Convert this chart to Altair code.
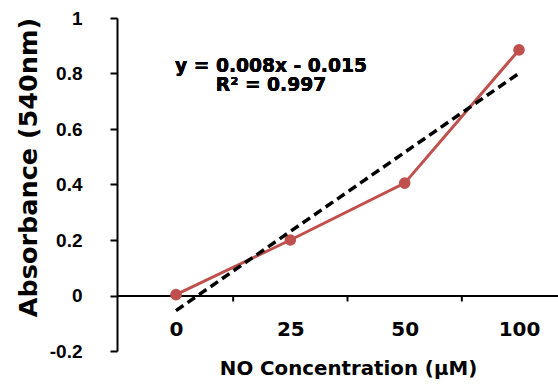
import json
import altair as alt
import pandas as pd

# ---- data ----
concentrations = ["0", "25", "50", "100"]          # category labels (µM)
absorbance = [0.003, 0.200, 0.405, 0.885]          # absorbance at 540 nm
y_ticks = [-0.2, 0, 0.2, 0.4, 0.6, 0.8, 1]
equation_lines = ["y = 0.008x - 0.015", "R² = 0.997"]

idx = list(range(len(concentrations)))
df = pd.DataFrame({"idx": idx, "conc": concentrations, "absorbance": absorbance})
mids = pd.DataFrame({"mid": [(a + b) / 2 for a, b in zip(idx[:-1], idx[1:])]})

RED = "#C0504D"
label_lookup = json.dumps(concentrations)

x_scale = alt.Scale(domain=[-0.516, 3.341], nice=False, zero=False)
y_scale = alt.Scale(domain=[-0.2, 1], nice=False, zero=False)

x_axis = alt.Axis(
    values=idx,
    labelExpr=f"{label_lookup}[datum.value]",
    title="NO Concentration (µM)",
    ticks=False,
    grid=False,
    domain=True,
    domainColor="black",
    domainWidth=2,
    offset=-55.5,
    labelFont="DejaVu Sans",
    labelFontWeight="bold",
    labelFontSize=20,
    labelColor="black",
    labelPadding=24,
    titleFont="DejaVu Sans",
    titleFontWeight="bold",
    titleFontSize=19.8,
    titleColor="black",
    titlePadding=19,
    titleX=231,
)

y_axis = alt.Axis(
    values=y_ticks,
    labelExpr="'' + datum.value",
    title="Absorbance (540nm)",
    grid=False,
    domainColor="black",
    domainWidth=2,
    tickColor="black",
    tickWidth=2,
    tickSize=7,
    labelFont="Liberation Sans",
    labelFontWeight="bold",
    labelFontSize=19,
    labelColor="black",
    labelAlign="right",
    labelPadding=28,
    titleFont="DejaVu Sans",
    titleFontWeight="bold",
    titleFontSize=25.5,
    titleColor="black",
    titleX=-81,
    titleY=149,
    titleBaseline="alphabetic",
)

base = alt.Chart(df)

series_line = base.mark_line(color=RED, strokeWidth=3).encode(
    x=alt.X("idx:Q", scale=x_scale, axis=x_axis),
    y=alt.Y("absorbance:Q", scale=y_scale, axis=y_axis),
)

points = base.mark_circle(color=RED, size=135, opacity=1).encode(
    x="idx:Q", y="absorbance:Q"
)

trend = (
    base.transform_regression("idx", "absorbance")
    .mark_line(color="black", strokeWidth=3.5, strokeDash=[9, 5])
    .encode(x="idx:Q", y="absorbance:Q")
)

ticks = alt.Chart(mids).mark_rule(
    color="black", strokeWidth=2, y2Offset=6
).encode(x="mid:Q", y=alt.datum(0), y2=alt.datum(0))

equation = alt.Chart(df).mark_text(
    font="DejaVu Sans",
    fontWeight="bold",
    fontSize=18.7,
    color="black",
    align="center",
    baseline="top",
    lineHeight=19,
).encode(
    x=alt.value(154),
    y=alt.value(39),
    text=alt.value(equation_lines),
)

chart = (
    alt.layer(series_line, points, trend, ticks, equation)
    .properties(
        width=441,
        height=333,
        autosize=alt.AutoSizeParams(type="none"),
        padding={"left": 117, "top": 18, "right": 0, "bottom": 39},
        background="white",
    )
    .configure_view(stroke=None)
)

chart.save("out.html", embed_options={"renderer": "svg", "actions": False})
